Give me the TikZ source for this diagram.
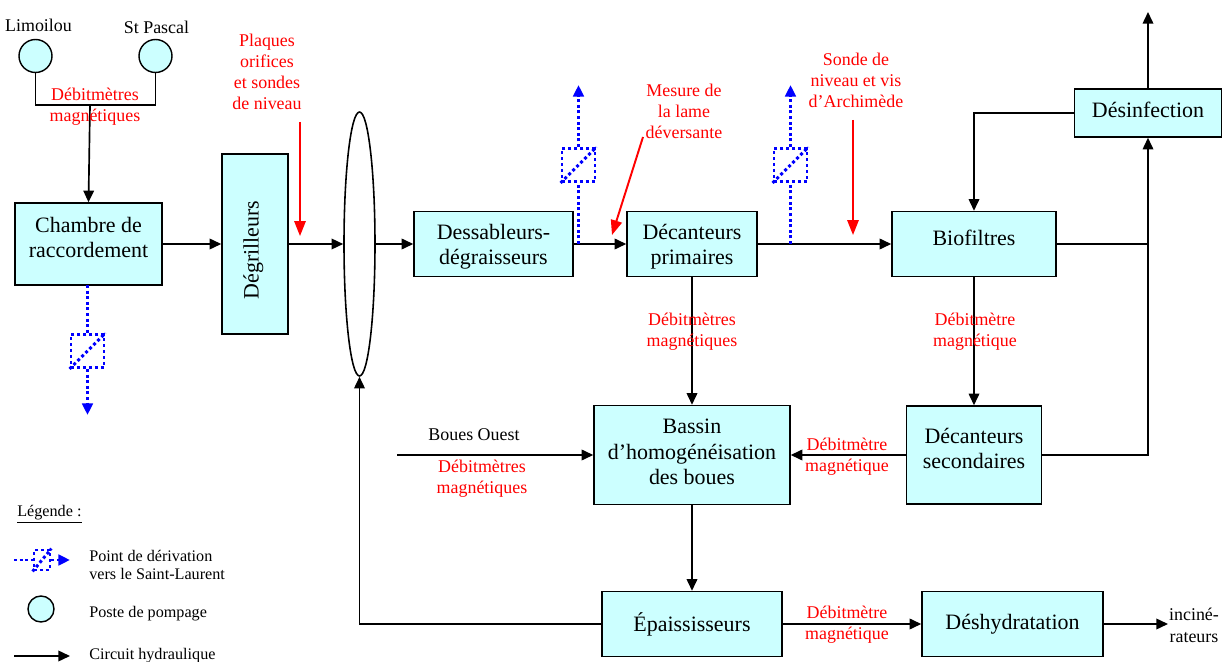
\documentclass[tikz,border=0pt]{standalone}
\usepackage{fontspec}
\setmainfont{Liberation Serif}
\usepackage{xcolor}
\usetikzlibrary{arrows.meta,shapes.geometric}
\definecolor{basin}{HTML}{CCFFFF}
\definecolor{mesure}{HTML}{FF0000}
\definecolor{derive}{HTML}{0000FF}
\newcommand{\pushup}[1]{\rule[-#1]{0pt}{#1}}
\newcommand{\pushdown}[1]{\rule{0pt}{#1}}
\tikzset{
  unit/.style={draw=black,line width=0.85pt,fill=basin,align=center,inner sep=0pt,font=\fontsize{12.5}{14.6}\selectfont},
  pump/.style={circle,draw=black,line width=0.8pt,fill=basin,inner sep=0pt,minimum size=0.66cm},
  flux/.style={black,line width=0.95pt,-{Triangle[length=6.6pt,width=6pt]}},
  plainline/.style={black,line width=0.95pt},
  probe/.style={mesure,line width=1.1pt,-{Triangle[length=8.4pt,width=6.4pt]}},
  bypass/.style={derive,line width=1.7pt,dash pattern=on 1.7pt off 1.5pt},
  bypassbox/.style={draw=derive,line width=1.6pt,dash pattern=on 1.7pt off 1.7pt,inner sep=0pt,minimum width=0.66cm,minimum height=0.66cm},
  bypasstip/.style={bypass,-{Triangle[length=6.6pt,width=6pt]}},
  note/.style={mesure,align=center,inner sep=0pt,font=\fontsize{10.2}{11.95}\selectfont},
  place/.style={black,align=center,inner sep=0pt,font=\fontsize{10.2}{12.5}\selectfont},
  legendtext/.style={black,align=left,anchor=west,inner sep=0pt,font=\fontsize{9.2}{10.3}\selectfont}
}
\begin{document}
\begin{tikzpicture}[x=0.02cm,y=-0.02cm]
  \useasboundingbox (0,0) rectangle (1225,662);
  % process units
  \node[unit,minimum width=2.94cm,minimum height=1.64cm] (chambre) at (88.5,244) {Chambre de\\raccordement\pushup{7.6pt}};
  \node[unit,minimum width=1.32cm,minimum height=3.6cm] (degrilleurs) at (255,244) {\rotatebox{90}{Dégrilleurs\hspace{7pt}\pushup{4.6pt}}};
  \node[ellipse,draw=black,line width=0.9pt,inner sep=0pt,minimum width=0.62cm,minimum height=5.28cm] (canal) at (359.5,244) {};
  \node[unit,minimum width=3.18cm,minimum height=1.3cm] (dessableurs) at (493.5,244) {\pushdown{11.9pt}Dessableurs-\\dégraisseurs};
  \node[unit,minimum width=2.6cm,minimum height=1.3cm] (primaires) at (692,244) {\pushdown{11.9pt}Décanteurs\\primaires};
  \node[unit,minimum width=3.28cm,minimum height=1.3cm] (biofiltres) at (974,244) {Biofiltres\pushup{7pt}};
  \node[unit,minimum width=2.94cm,minimum height=0.96cm] (desinfection) at (1148,113) {Désinfection\pushup{3.5pt}};
  \node[unit,minimum width=3.92cm,minimum height=1.98cm] (bassin) at (692,455) {Bassin\\d’homogénéisation\\des boues\pushup{3.5pt}};
  \node[unit,minimum width=2.7cm,minimum height=1.96cm] (secondaires) at (974,455) {Décanteurs\\secondaires\pushup{7.6pt}};
  \node[unit,minimum width=3.6cm,minimum height=1.3cm] (epaississeurs) at (692,624) {Épaississeurs};
  \node[unit,minimum width=3.62cm,minimum height=1.3cm] (deshydratation) at (1012.5,624) {Déshydratation};
  % pumping stations
  \node[pump] (limoilou) at (35.5,56) {};
  \node[pump] (pascal) at (155.5,56) {};
  \node[place] (limoiloulabel) at (38.5,25) {Limoilou};
  \node[place] (pascallabel) at (156.5,27) {St Pascal};
  \coordinate (collecteur) at (90,105);
  \coordinate (jonction) at (1148,244);
  \coordinate (sortie) at (1148,12);
  \coordinate (ouest) at (397,455);
  % hydraulic circuit
  \draw[plainline] (limoilou.south) |- (collecteur) -| (pascal.south);
  \draw[flux] (collecteur) -- (chambre.north);
  \draw[flux] (chambre) -- (degrilleurs);
  \draw[flux] (degrilleurs) -- (canal);
  \draw[flux] (canal) -- (dessableurs);
  \draw[flux] (dessableurs) -- (primaires);
  \draw[flux] (primaires) -- (biofiltres);
  \draw[flux] (biofiltres.east) -| (desinfection.south);
  \draw[plainline] (secondaires.east) -| (jonction);
  \draw[flux] (desinfection.west) -| (biofiltres.north);
  \draw[flux] (desinfection.north) -- (sortie);
  \draw[flux] (biofiltres.south) -- (secondaires.north);
  \draw[flux] (primaires.south) -- (bassin.north);
  \draw[flux] (secondaires.west) -- (bassin.east);
  \draw[flux] (ouest) -- (bassin.west);
  \draw[flux] (bassin.south) -- (epaississeurs.north);
  \draw[flux] (epaississeurs.west) -| (canal.south);
  \draw[flux] (epaississeurs.east) -- (deshydratation.west);
  \coordinate (incineration) at (1168,624);
  \draw[flux] (deshydratation.east) -- (incineration);
  \node[place,font=\fontsize{10.2}{12.4}\selectfont] (incinerateurs) at (1194,625) {inciné-\\rateurs};
  % bypass points
  \foreach \nom/\x/\y/\haut/\bas in {derivA/87.5/351/285/415,derivB/578.5/165/244/85,derivC/790.5/165/244/85}{
    \node[bypassbox] (\nom) at (\x,\y) {};
    \coordinate (\nom debut) at (\x,\haut);
    \coordinate (\nom fin) at (\x,\bas);
    \draw[bypass] (\nom debut) -- (\nom);
    \draw[bypass] (\nom.south west) -- (\nom.north east);
    \draw[bypasstip] (\nom) -- (\nom fin);
  }
  % measuring points
  \node[note] (plaques) at (267,72) {Plaques\\orifices\\et sondes\\de niveau};
  \node[note] (lame) at (684,111) {Mesure de\\la lame\\déversante};
  \node[note] (sonde) at (856,80) {Sonde de\\niveau et vis\\d’Archimède};
  \coordinate (plaquesA) at (300,122);
  \coordinate (plaquesB) at (300,236);
  \coordinate (lameA) at (643,137);
  \coordinate (lameB) at (612,235);
  \coordinate (sondeA) at (853,120);
  \coordinate (sondeB) at (853,235);
  \draw[probe] (plaquesA) -- (plaquesB);
  \draw[probe] (lameA) -- (lameB);
  \draw[probe] (sondeA) -- (sondeB);
  \node[note] (debitA) at (95,107) {Débitmètres\\magnétiques};
  \node[note] (debitB) at (692,332) {Débitmètres\\magnétiques};
  \node[note] (debitC) at (975,332) {Débitmètre\\magnétique};
  \node[note] (debitD) at (847,456.5) {Débitmètre\\magnétique};
  \node[note] (debitE) at (482,479) {Débitmètres\\magnétiques};
  \node[note] (debitF) at (847,625) {Débitmètre\\magnétique};
  \node[place] (boues) at (474,435) {Boues Ouest};
  % legend
  \node[legendtext] (legende) at (17,514) {\underline{Légende :}};
  \coordinate (legA) at (14,560);
  \coordinate (legB) at (70,560);
  \node[bypassbox,minimum width=0.32cm,minimum height=0.4cm] (legbox) at (42,560) {};
  \draw[bypass] (legA) -- (legbox);
  \draw[bypass] (legbox.south west) -- (legbox.north east);
  \draw[bypasstip] (legbox) -- (legB);
  \node[legendtext] (legtextA) at (89,565) {Point de dérivation\\vers le Saint-Laurent};
  \node[pump,minimum size=0.52cm] (legpump) at (41,609) {};
  \node[legendtext] (legtextB) at (89,614) {Poste de pompage};
  \coordinate (legC) at (14,656);
  \coordinate (legD) at (70,656);
  \draw[flux] (legC) -- (legD);
  \node[legendtext] (legtextC) at (89,656) {Circuit hydraulique};
\end{tikzpicture}
\end{document}
